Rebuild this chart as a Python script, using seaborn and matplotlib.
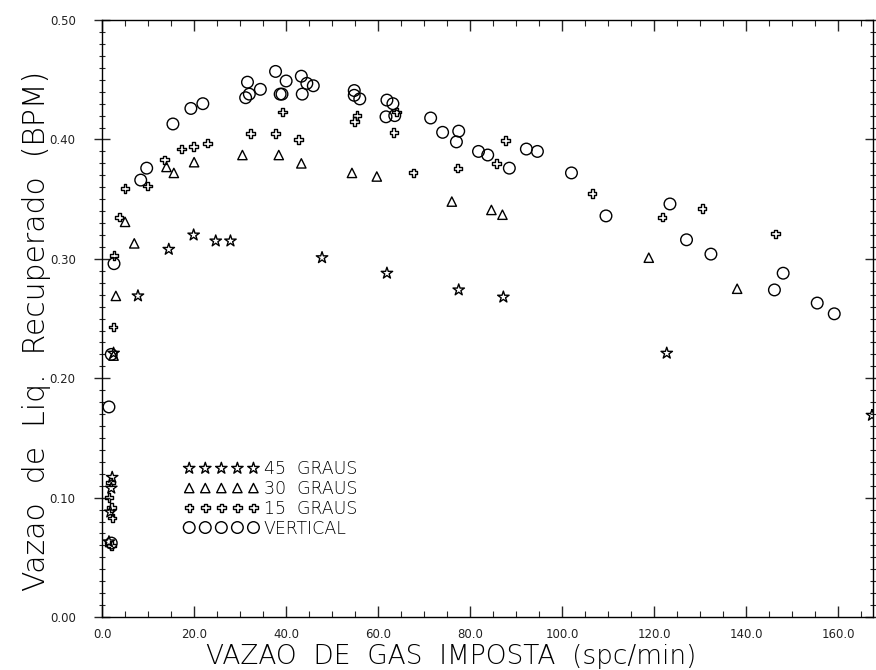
import numpy as np
import pandas as pd
import matplotlib
matplotlib.use("Agg")
import matplotlib.pyplot as plt
import seaborn as sns
from matplotlib.ticker import MultipleLocator, FormatStrFormatter

# ---- data ----
series_names = ["45  GRAUS", "30  GRAUS", "15  GRAUS", "VERTICAL"]

x45 = [1.5, 1.8, 2.0, 2.2, 2.5, 7.8, 14.5, 19.9, 24.7, 27.9, 47.8, 61.9, 77.5, 87.2, 122.7, 167.3]
y45 = [0.063, 0.088, 0.108, 0.117, 0.221, 0.269, 0.308, 0.320, 0.315, 0.315, 0.301, 0.288, 0.274, 0.268, 0.221, 0.169]

x30 = [2.5, 3.0, 5.0, 7.0, 14.0, 15.6, 20.0, 30.5, 38.4, 43.3, 54.3, 59.7, 76.0, 84.6, 87.0, 118.8, 138.0]
y30 = [0.219, 0.269, 0.331, 0.313, 0.377, 0.372, 0.381, 0.387, 0.387, 0.380, 0.372, 0.369, 0.348, 0.341, 0.337, 0.301, 0.275]

x15 = [1.5, 1.8, 2.0, 2.2, 2.0, 2.4, 2.6, 3.7, 5.0, 9.9, 13.6, 17.3, 19.9, 22.9, 32.3, 37.7, 39.2, 42.7,
       54.8, 55.4, 63.4, 64.0, 67.6, 77.3, 85.7, 87.7, 106.5, 121.7, 130.4, 146.3]
y15 = [0.100, 0.113, 0.092, 0.083, 0.060, 0.243, 0.303, 0.335, 0.359, 0.361, 0.383, 0.392, 0.394, 0.397,
       0.405, 0.405, 0.423, 0.400, 0.415, 0.420, 0.406, 0.423, 0.372, 0.376, 0.380, 0.399, 0.355, 0.335,
       0.342, 0.321]

xv = [1.5, 2.0, 2.0, 2.6, 8.4, 9.7, 15.4, 19.3, 21.9, 31.2, 31.6, 32.0, 34.4, 37.7, 38.7, 39.1, 40.0,
      43.3, 43.5, 44.5, 45.9, 54.8, 54.8, 56.0, 61.7, 61.9, 63.2, 63.6, 71.4, 74.0, 77.0, 77.5, 81.8,
      83.8, 88.5, 92.2, 94.6, 102.0, 109.5, 123.4, 127.0, 132.3, 146.1, 148.0, 155.4, 159.1]
yv = [0.176, 0.220, 0.062, 0.296, 0.366, 0.376, 0.413, 0.426, 0.430, 0.435, 0.448, 0.438, 0.442, 0.457,
      0.438, 0.438, 0.449, 0.453, 0.438, 0.447, 0.445, 0.441, 0.437, 0.434, 0.419, 0.433, 0.430, 0.420,
      0.418, 0.406, 0.398, 0.407, 0.390, 0.387, 0.376, 0.392, 0.390, 0.372, 0.336, 0.346, 0.316, 0.304,
      0.274, 0.288, 0.263, 0.254]

x_ticks = [0, 20, 40, 60, 80, 100, 120, 140, 160]
y_ticks = [0.0, 0.1, 0.2, 0.3, 0.4, 0.5]

xlabel = "VAZAO  DE  GAS  IMPOSTA  (spc/min)"
ylabel = "Vazao  de  Liq.  Recuperado  (BPM)"

frames = []
for name, xs, ys in zip(series_names, [x45, x30, x15, xv], [y45, y30, y15, yv]):
    frames.append(pd.DataFrame({"x": xs, "y": ys, "serie": name}))
df = pd.concat(frames, ignore_index=True)

# ---- style ----
sns.set_theme(style="white")
plt.rcParams["font.family"] = ["DejaVu Sans"]

fig = plt.figure(figsize=(8.76, 6.70), dpi=100)
ax = fig.add_axes([0.1165, 0.079, 0.8805, 0.891])

marker_map = {"45  GRAUS": "*", "30  GRAUS": "^", "15  GRAUS": "P", "VERTICAL": "o"}
size_map = {"45  GRAUS": 75, "30  GRAUS": 45, "15  GRAUS": 38, "VERTICAL": 70}

for name in series_names:
    sub = df[df["serie"] == name]
    sns.scatterplot(data=sub, x="x", y="y", ax=ax, marker=marker_map[name], s=size_map[name],
                    color="black", facecolors="none", edgecolor="black", linewidth=1.0,
                    label=name, legend=False)

ax.set_xlim(0, 167.6)
ax.set_ylim(0, 0.5)
ax.set_xticks(x_ticks)
ax.set_yticks(y_ticks)
ax.xaxis.set_major_formatter(FormatStrFormatter("%.1f"))
ax.yaxis.set_major_formatter(FormatStrFormatter("%.2f"))
ax.xaxis.set_minor_locator(MultipleLocator(5))
ax.yaxis.set_minor_locator(MultipleLocator(0.01))

for sp in ax.spines.values():
    sp.set_color("black")
    sp.set_linewidth(1.0)

ax.tick_params(axis="x", which="major", direction="in", length=8, width=1, top=True, bottom=True,
               labelsize=8.5, labelcolor="#222222", pad=8)
ax.tick_params(axis="x", which="minor", direction="in", length=4, width=0.8, top=True, bottom=True)
ax.tick_params(axis="y", which="major", direction="inout", length=12, width=1, left=True, right=True,
               labelsize=8.5, labelcolor="#222222", pad=13)
ax.tick_params(axis="y", which="minor", direction="inout", length=5, width=0.8, left=True, right=True)

ax.set_xlabel(xlabel, fontsize=19, color="black", fontweight="light")
ax.set_ylabel(ylabel, fontsize=21.5, color="black", fontweight="light")
ax.xaxis.set_label_coords(0.453, -0.045)
ax.yaxis.set_label_coords(-0.066, 0.48)
ax.grid(False)

handles, labels = ax.get_legend_handles_labels()
leg = ax.legend(handles, labels, loc="upper left", bbox_to_anchor=(0.095, 0.277), frameon=False,
                scatterpoints=5, scatteryoffsets=[0.5], markerscale=1.0, handlelength=4.3,
                handletextpad=0.3, labelspacing=0.1, borderpad=0,
                prop={"weight": "light", "size": 12.5})
for t in leg.get_texts():
    t.set_color("black")

fig.savefig("out.png", dpi=100)
